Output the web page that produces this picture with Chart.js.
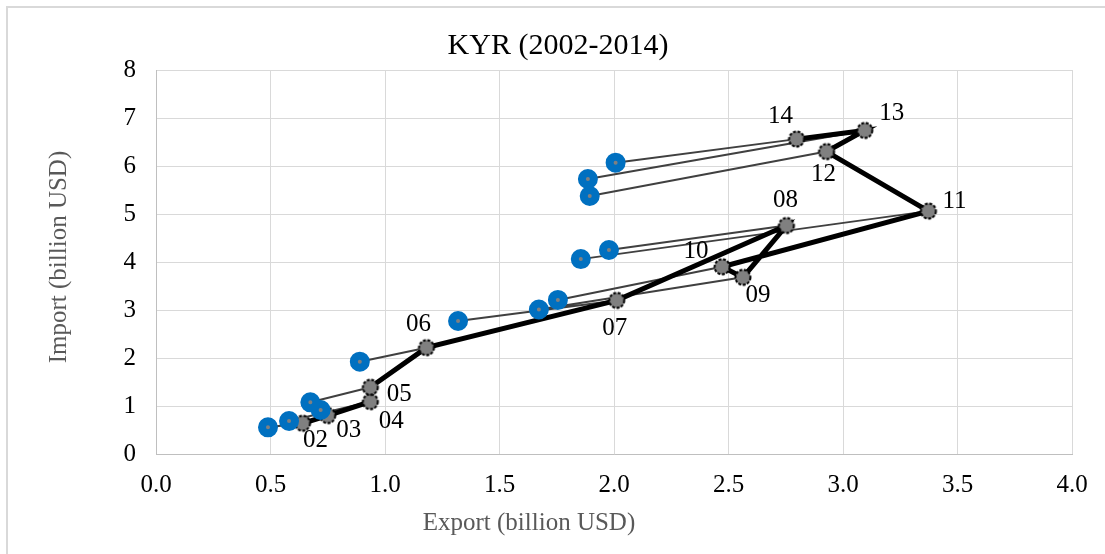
<!DOCTYPE html>
<html>
<head>
<meta charset="utf-8">
<script src="https://cdn.jsdelivr.net/npm/chart.js@4.4.1/dist/chart.umd.min.js"></script>
<style>
  html, body { margin: 0; padding: 0; background: #ffffff; }
  #wrap { position: relative; width: 1105px; height: 554px; overflow: hidden; }
  #frameL { position: absolute; left: 6px; top: 7px; width: 2px; height: 560px; background: #d9d9d9; }
  #frameT { position: absolute; left: 6px; top: 6px; width: 1110px; height: 2px; background: #d9d9d9; }
  canvas { position: absolute; left: 0; top: 0; }
</style>
</head>
<body>
<div id="wrap">
  <div id="frameL"></div>
  <div id="frameT"></div>
  <canvas id="c" width="1105" height="554"></canvas>
</div>
<script>
// ---- data ----
const years = ['02','03','04','05','06','07','08','09','10','11','12','13','14'];
const exportKYR = [0.64, 0.75, 0.936, 0.936, 1.181, 2.012, 2.753, 2.563, 2.472, 3.373, 2.928, 3.095, 2.797];
const importKYR = [0.64, 0.80, 1.09, 1.39, 2.215, 3.20, 4.76, 3.68, 3.90, 5.06, 6.30, 6.74, 6.56];
const exportRef = [0.489, 0.719, 0.581, 0.674, 0.890, 1.319, 1.978, 1.672, 1.755, 1.855, 1.894, 1.886, 2.007];
const importRef = [0.556, 0.917, 0.6875, 1.077, 1.923, 2.77, 4.25, 3.01, 3.21, 4.06, 5.375, 5.73, 6.07];
const xTicks = [0, 0.5, 1, 1.5, 2, 2.5, 3, 3.5, 4];
const yTicks = [0, 1, 2, 3, 4, 5, 6, 7, 8];
const chartTitle = 'KYR (2002-2014)';
const xTitle = 'Export (billion USD)';
const yTitle = 'Import (billion USD)';

// ---- label placement (style only) ----
const labelOffsets = [[13,17],[21,15],[21,20],[29,7],[-8,-23],[-2,28],[-1,-25],[15,18],[-26,-15],[26,-10],[-3,23],[27,-17],[-16,-23]];

const mainPts = exportKYR.map((x, i) => ({x: x, y: importKYR[i]}));
const refPts = exportRef.map((x, i) => ({x: x, y: importRef[i]}));
const connPts = [];
years.forEach((_, i) => {
  connPts.push({x: exportRef[i], y: importRef[i]});
  connPts.push({x: exportKYR[i], y: importKYR[i]});
  connPts.push({x: null, y: null});
});

const FONT = 'Liberation Serif';

// dashed-border grey marker
const marker = document.createElement('canvas');
marker.width = 20; marker.height = 20;
(function () {
  const m = marker.getContext('2d');
  m.beginPath();
  m.arc(10, 10, 7.5, 0, Math.PI * 2);
  m.fillStyle = '#808080';
  m.fill();
  m.lineWidth = 2;
  m.strokeStyle = '#000000';
  m.setLineDash([3, 1.5]);
  m.stroke();
})();

const yearLabels = {
  id: 'yearLabels',
  afterDatasetsDraw(chart) {
    const meta = chart.getDatasetMeta(1);
    const ctx = chart.ctx;
    ctx.save();
    ctx.font = '25px "' + FONT + '"';
    ctx.fillStyle = '#000000';
    ctx.textAlign = 'center';
    ctx.textBaseline = 'middle';
    meta.data.forEach((el, i) => {
      const o = labelOffsets[i];
      ctx.fillText(years[i], el.x + o[0], el.y + o[1]);
    });
    ctx.restore();
  }
};

const titles = {
  id: 'titles',
  afterDraw(chart) {
    const ctx = chart.ctx;
    ctx.save();
    ctx.textAlign = 'center';
    ctx.textBaseline = 'middle';
    ctx.fillStyle = '#000000';
    ctx.font = '30px "' + FONT + '"';
    ctx.fillText(chartTitle, 558, 46);
    ctx.fillStyle = '#595959';
    ctx.font = '25px "' + FONT + '"';
    ctx.fillText(xTitle, 529, 523);
    ctx.translate(59, 257);
    ctx.rotate(-Math.PI / 2);
    ctx.fillText(yTitle, 0, 0);
    ctx.restore();
  }
};

new Chart(document.getElementById('c'), {
  type: 'scatter',
  data: {
    datasets: [
      {
        label: 'Reference',
        data: refPts,
        showLine: false,
        pointRadius: 6,
        pointBorderWidth: 8,
        pointBackgroundColor: '#808080',
        pointBorderColor: '#0070C0'
      },
      {
        label: 'KYR',
        data: mainPts,
        showLine: true,
        borderColor: '#000000',
        borderWidth: 5,
        tension: 0,
        pointStyle: marker,
        pointRadius: 9
      },
      {
        label: 'Links',
        data: connPts,
        showLine: true,
        spanGaps: false,
        borderColor: '#404040',
        borderWidth: 2,
        pointRadius: 0
      }
    ]
  },
  options: {
    responsive: false,
    animation: false,
    events: [],
    layout: { padding: { left: 0, right: 33, top: 70, bottom: 0 } },
    plugins: {
      legend: { display: false },
      tooltip: { enabled: false },
      title: { display: false }
    },
    scales: {
      x: {
        type: 'linear',
        min: 0, max: 4,
        afterBuildTicks: (s) => { s.ticks = xTicks.map(v => ({value: v})); },
        afterFit: (s) => { s.height = 100; },
        ticks: {
          color: '#000000',
          font: { family: FONT, size: 25 },
          padding: 16,
          callback: (v) => Number(v).toFixed(1)
        },
        grid: { color: '#d9d9d9', lineWidth: 1, drawTicks: false },
        border: { color: '#bfbfbf', width: 1 },
        title: { display: false }
      },
      y: {
        type: 'linear',
        min: 0, max: 8,
        afterBuildTicks: (s) => { s.ticks = yTicks.map(v => ({value: v})); },
        afterFit: (s) => { s.width = 156; },
        ticks: {
          color: '#000000',
          font: { family: FONT, size: 25 },
          padding: 20,
          callback: (v) => String(v)
        },
        grid: { color: '#d9d9d9', lineWidth: 1, drawTicks: false },
        border: { color: '#bfbfbf', width: 1 },
        title: { display: false }
      }
    }
  },
  plugins: [yearLabels, titles]
});
</script>
</body>
</html>
